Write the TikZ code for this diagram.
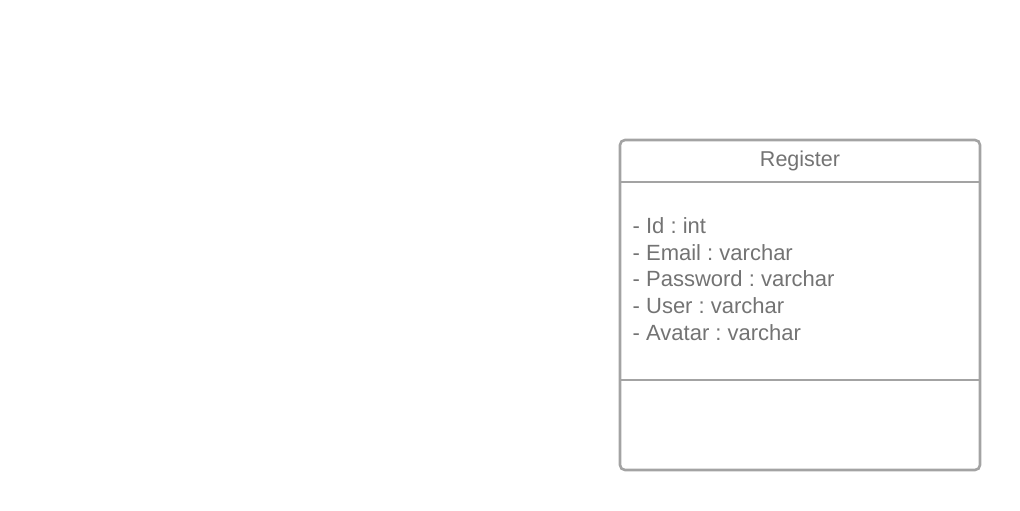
\documentclass[tikz,border=0pt]{standalone}
\usepackage{fontspec}
\setmainfont{Liberation Sans}
\frenchspacing
\usetikzlibrary{positioning, calc}

\definecolor{boxgray}{HTML}{A3A3A3}
\definecolor{textgray}{HTML}{737373}

\tikzset{
  classbox/.style={draw=boxgray, line width=2.6pt, rounded corners=5pt},
  classrule/.style={draw=boxgray, line width=2.6pt},
  classtitle/.style={text=textgray, font=\fontsize{21.5}{26.7}\selectfont, inner sep=0pt, anchor=base},
  classattr/.style={text=textgray, font=\fontsize{22}{26.7}\selectfont, inner sep=0pt, anchor=base west}
}

\begin{document}
\begin{tikzpicture}[x=1pt, y=-1pt]
		% Canvas
		\useasboundingbox (0,0) rectangle (1020,511);
		% Class box
		\draw[classbox] (620,140) rectangle (980,470);
		\coordinate (topL) at (620,182);
		\coordinate (topR) at (980,182);
		\coordinate (botL) at (620,380);
		\coordinate (botR) at (980,380);
		\draw[classrule] (topL) -- (topR);
		\draw[classrule] (botL) -- (botR);

		% Name
		\node[classtitle] (title) at (800,166) {Register};
		% Attributes
		\foreach \txt [count=\i from 0] in {- Id : int, - Email : varchar, - Password : varchar, - User : varchar, - Avatar : varchar}
			\node[classattr] (attr\i) at (632.5,233.3+26.75*\i) {\txt};
	\end{tikzpicture}
\end{document}
